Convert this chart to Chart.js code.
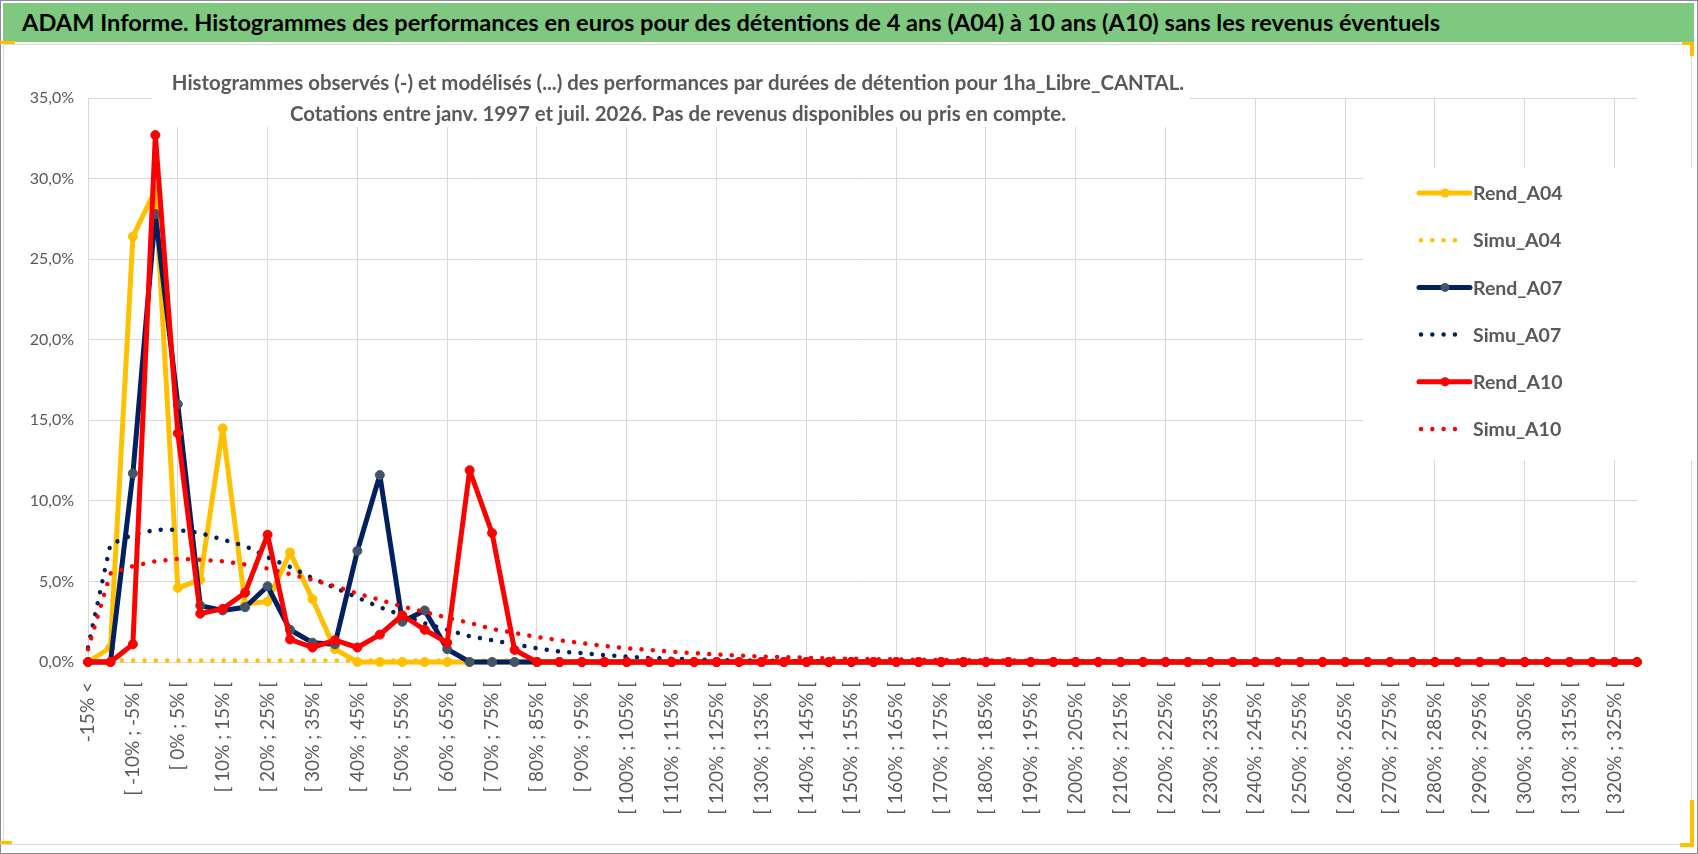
<!DOCTYPE html>
<html lang="fr">
<head>
<meta charset="utf-8">
<title>ADAM Informe - Histogrammes A04 à A10</title>
<script src="https://cdn.jsdelivr.net/npm/chart.js@4.4.1/dist/chart.umd.min.js"></script>
<style>
  html, body { margin: 0; padding: 0; background: #fff; }
  body { width: 1698px; height: 854px; position: relative; overflow: hidden; font-family: Lato, sans-serif; }
  #frame { position: absolute; left: 0; top: 0; width: 1696px; height: 852px; border: 1px solid #8c8c8c; }
  #banner { position: absolute; left: 3px; top: 3px; width: 1691px; height: 39px; background: #7ec87f;
            color: #000; font: bold 23.6px Lato, sans-serif; line-height: 39px; padding-left: 19px;
            box-sizing: border-box; white-space: nowrap; }
  #plotBox { position: absolute; left: 3px; top: 44px; width: 1687px; height: 799px; border: 1px solid #d9d9d9; }
  #chartWrap { position: absolute; left: 3px; top: 45px; width: 1691px; height: 801px; }
  .mark { position: absolute; background: #ffc000; }
</style>
</head>
<body>
<div id="frame"></div>
<div id="banner">ADAM Informe. Histogrammes des performances en euros pour des détentions de 4 ans (A04) à 10 ans (A10) sans les revenus éventuels</div>
<div id="plotBox"></div>
<div id="chartWrap"><canvas id="chartPerf"></canvas></div>
<div class="mark" style="left:0;top:41px;width:15px;height:3px"></div>
<div class="mark" style="left:1682px;top:42px;width:12px;height:3px"></div>
<div class="mark" style="left:1690px;top:42px;width:4px;height:14px"></div>
<div class="mark" style="left:0;top:841px;width:12px;height:3px"></div>
<div class="mark" style="left:1680px;top:843px;width:14px;height:4px"></div>
<div class="mark" style="left:1690px;top:800px;width:4px;height:47px"></div>
<script>
// classes de performance (axe X)
const categories = [
    "-15% <", "[ -15% ; -10% [", "[ -10% ; -5% [", "[ -5% ; 0% [", "[ 0% ; 5% [",
    "[ 5% ; 10% [", "[ 10% ; 15% [", "[ 15% ; 20% [", "[ 20% ; 25% [", "[ 25% ; 30% [",
    "[ 30% ; 35% [", "[ 35% ; 40% [", "[ 40% ; 45% [", "[ 45% ; 50% [", "[ 50% ; 55% [",
    "[ 55% ; 60% [", "[ 60% ; 65% [", "[ 65% ; 70% [", "[ 70% ; 75% [", "[ 75% ; 80% [",
    "[ 80% ; 85% [", "[ 85% ; 90% [", "[ 90% ; 95% [", "[ 95% ; 100% [", "[ 100% ; 105% [",
    "[ 105% ; 110% [", "[ 110% ; 115% [", "[ 115% ; 120% [", "[ 120% ; 125% [", "[ 125% ; 130% [",
    "[ 130% ; 135% [", "[ 135% ; 140% [", "[ 140% ; 145% [", "[ 145% ; 150% [", "[ 150% ; 155% [",
    "[ 155% ; 160% [", "[ 160% ; 165% [", "[ 165% ; 170% [", "[ 170% ; 175% [", "[ 175% ; 180% [",
    "[ 180% ; 185% [", "[ 185% ; 190% [", "[ 190% ; 195% [", "[ 195% ; 200% [", "[ 200% ; 205% [",
    "[ 205% ; 210% [", "[ 210% ; 215% [", "[ 215% ; 220% [", "[ 220% ; 225% [", "[ 225% ; 230% [",
    "[ 230% ; 235% [", "[ 235% ; 240% [", "[ 240% ; 245% [", "[ 245% ; 250% [", "[ 250% ; 255% [",
    "[ 255% ; 260% [", "[ 260% ; 265% [", "[ 265% ; 270% [", "[ 270% ; 275% [", "[ 275% ; 280% [",
    "[ 280% ; 285% [", "[ 285% ; 290% [", "[ 290% ; 295% [", "[ 295% ; 300% [", "[ 300% ; 305% [",
    "[ 305% ; 310% [", "[ 310% ; 315% [", "[ 315% ; 320% [", "[ 320% ; 325% [", "[ 325% ; 330% ["
];

// fréquences en %
const rendA04 = [
    0, 0.9, 26.4, 29.3, 4.6, 5.1, 14.5, 3.6, 3.75, 6.8,
    3.9, 0.8, 0, 0, 0, 0, 0, 0, 0, 0,
    0, 0, 0, 0, 0, 0, 0, 0, 0, 0,
    0, 0, 0, 0, 0, 0, 0, 0, 0, 0,
    0, 0, 0, 0, 0, 0, 0, 0, 0, 0,
    0, 0, 0, 0, 0, 0, 0, 0, 0, 0,
    0, 0, 0, 0, 0, 0, 0, 0, 0, 0
];
const simuA04 = [
    0, 0.1, 0.1, 0.1, 0.1, 0.1, 0.1, 0.1, 0.1, 0.1,
    0.1, 0.1, 0.1, 0.1, 0.1, 0.1, 0.1, 0.1, 0.1, 0.1,
    0, 0, 0, 0, 0, 0, 0, 0, 0, 0,
    0, 0, 0, 0, 0, 0, 0, 0, 0, 0,
    0, 0, 0, 0, 0, 0, 0, 0, 0, 0,
    0, 0, 0, 0, 0, 0, 0, 0, 0, 0,
    0, 0, 0, 0, 0, 0, 0, 0, 0, 0
];
const rendA07 = [
    0, 0, 11.7, 27.8, 16.0, 3.5, 3.2, 3.4, 4.7, 2.0,
    1.2, 1.1, 6.9, 11.6, 2.5, 3.2, 0.8, 0, 0, 0,
    0, 0, 0, 0, 0, 0, 0, 0, 0, 0,
    0, 0, 0, 0, 0, 0, 0, 0, 0, 0,
    0, 0, 0, 0, 0, 0, 0, 0, 0, 0,
    0, 0, 0, 0, 0, 0, 0, 0, 0, 0,
    0, 0, 0, 0, 0, 0, 0, 0, 0, 0
];
const simuA07 = [
    0.9, 7.3, 7.9, 8.2, 8.2, 8.0, 7.6, 7.2, 6.5, 5.9,
    5.2, 4.6, 4.0, 3.4, 2.9, 2.4, 2.0, 1.6, 1.35, 1.1,
    0.85, 0.65, 0.55, 0.43, 0.33, 0.25, 0.2, 0.16, 0.12, 0.1,
    0.08, 0.06, 0.05, 0.04, 0.03, 0.02, 0.02, 0.01, 0, 0,
    0, 0, 0, 0, 0, 0, 0, 0, 0, 0,
    0, 0, 0, 0, 0, 0, 0, 0, 0, 0,
    0, 0, 0, 0, 0, 0, 0, 0, 0, 0
];
const rendA10 = [
    0, 0, 1.1, 32.7, 14.2, 3.0, 3.3, 4.3, 7.9, 1.4,
    0.9, 1.35, 0.9, 1.7, 2.9, 2.0, 1.2, 11.9, 8.0, 0.75,
    0, 0, 0, 0, 0, 0, 0, 0, 0, 0,
    0, 0, 0, 0, 0, 0, 0, 0, 0, 0,
    0, 0, 0, 0, 0, 0, 0, 0, 0, 0,
    0, 0, 0, 0, 0, 0, 0, 0, 0, 0,
    0, 0, 0, 0, 0, 0, 0, 0, 0, 0
];
const simuA10 = [
    0.8, 5.5, 5.95, 6.25, 6.4, 6.35, 6.25, 6.05, 5.8, 5.45,
    5.1, 4.7, 4.25, 3.85, 3.45, 3.1, 2.75, 2.43, 2.05, 1.8,
    1.55, 1.35, 1.17, 1.0, 0.85, 0.75, 0.64, 0.55, 0.47, 0.4,
    0.34, 0.3, 0.26, 0.23, 0.2, 0.18, 0.16, 0.14, 0.12, 0.11,
    0.1, 0.09, 0.08, 0.07, 0.07, 0.06, 0.06, 0.05, 0.05, 0.05,
    0.04, 0.04, 0.03, 0.03, 0.03, 0.02, 0.02, 0.02, 0.01, 0.01,
    0.01, 0.01, 0.01, 0, 0, 0, 0, 0, 0, 0
];

const titleLines = [
    "Histogrammes observés (-) et modélisés (...) des performances par durées de détention pour 1ha_Libre_CANTAL.",
    "Cotations entre janv. 1997 et juil. 2026. Pas de revenus disponibles ou pris en compte."
];

const YELLOW = '#FFC000', NAVY = '#002060', SLATE = '#44546A', RED = '#FF0000';
const dotted = [0.01, 11.3];

function rend(label, data, color, marker, order) {
    return {
        label, data, order,
        borderColor: color, backgroundColor: marker,
        borderWidth: 5, borderCapStyle: 'round', borderJoinStyle: 'round',
        pointRadius: 4.5, pointBackgroundColor: marker, pointBorderColor: marker, pointBorderWidth: 1,
        tension: 0, clip: 12
    };
}
function simu(label, data, color, order) {
    return {
        label, data, order,
        borderColor: color, backgroundColor: color,
        borderWidth: 4.5, borderCapStyle: 'round', borderDash: dotted,
        pointRadius: 0, tension: 0, clip: 12
    };
}

// titre du graphique dans un cadre blanc par-dessus la grille
const titleBox = {
    id: 'titleBox',
    beforeDatasetsDraw(chart) {
        const c = chart.ctx;
        c.save();
        c.fillStyle = '#fff';
        c.fillRect(149, 10, 1038, 72);
        c.fillStyle = '#595959';
        c.font = "bold 20.4px Lato, sans-serif";
        c.textAlign = 'center';
        c.textBaseline = 'middle';
        c.fillText(titleLines[0], 675, 38);
        c.fillText(titleLines[1], 675, 69);
        c.restore();
    }
};

// légende à droite, posée sur la zone de tracé
const legendBox = {
    id: 'legendBox',
    afterDraw(chart) {
        const c = chart.ctx;
        c.save();
        c.fillStyle = '#fff';
        c.fillRect(1360, 123, 331, 292);
        chart.data.datasets.forEach((ds, i) => {
            const y = 148 + i * 47.2;
            c.beginPath();
            c.strokeStyle = ds.borderColor;
            c.lineWidth = ds.borderWidth;
            c.lineCap = 'round';
            if (ds.borderDash) {
                c.setLineDash(ds.borderDash);
                c.moveTo(1418, y);
                c.lineTo(1458, y);
            } else {
                c.setLineDash([]);
                c.moveTo(1416, y);
                c.lineTo(1467, y);
            }
            c.stroke();
            c.setLineDash([]);
            if (ds.pointRadius > 0) {
                c.beginPath();
                c.fillStyle = ds.pointBackgroundColor;
                c.arc(1442, y, 4.5, 0, Math.PI * 2);
                c.fill();
            }
            c.fillStyle = '#595959';
            c.font = "bold 19.5px Lato, sans-serif";
            c.textAlign = 'left';
            c.textBaseline = 'middle';
            c.fillText(ds.label, 1470, y + 1);
        });
        c.restore();
    }
};

const ctx = document.getElementById('chartPerf').getContext('2d');
new Chart(ctx, {
    type: 'line',
    data: {
        labels: categories,
        datasets: [
            rend('Rend_A04', rendA04, YELLOW, YELLOW, 5),
            simu('Simu_A04', simuA04, YELLOW, 4),
            rend('Rend_A07', rendA07, NAVY, SLATE, 3),
            simu('Simu_A07', simuA07, NAVY, 2),
            rend('Rend_A10', rendA10, RED, RED, 1),
            simu('Simu_A10', simuA10, RED, 0)
        ]
    },
    options: {
        responsive: true,
        maintainAspectRatio: false,
        animation: false,
        layout: { padding: { top: 53, right: 57, left: 0, bottom: 0 } },
        plugins: {
            legend: { display: false },
            tooltip: { enabled: false }
        },
        scales: {
            x: {
                offset: false,
                border: { display: false },
                grid: {
                    drawTicks: false,
                    color: (c) => c.index % 4 === 0 ? '#D9D9D9' : 'rgba(0,0,0,0)'
                },
                ticks: {
                    autoSkip: false,
                    maxRotation: 90,
                    minRotation: 90,
                    padding: 20,
                    color: '#595959',
                    font: { family: 'Lato', size: 19 },
                    callback: (v, i) => i % 2 === 0 ? categories[i] : ''
                },
                afterFit: (s) => { s.height = 184; }
            },
            y: {
                min: 0,
                max: 35,
                border: { display: false },
                grid: { color: '#D9D9D9', drawTicks: false },
                ticks: {
                    stepSize: 5,
                    padding: 14,
                    color: '#595959',
                    font: { family: 'Lato', size: 16 },
                    callback: (v) => v.toFixed(1).replace('.', ',') + '%'
                },
                afterFit: (s) => { s.width = 85; }
            }
        }
    },
    plugins: [titleBox, legendBox]
});
</script>
</body>
</html>
